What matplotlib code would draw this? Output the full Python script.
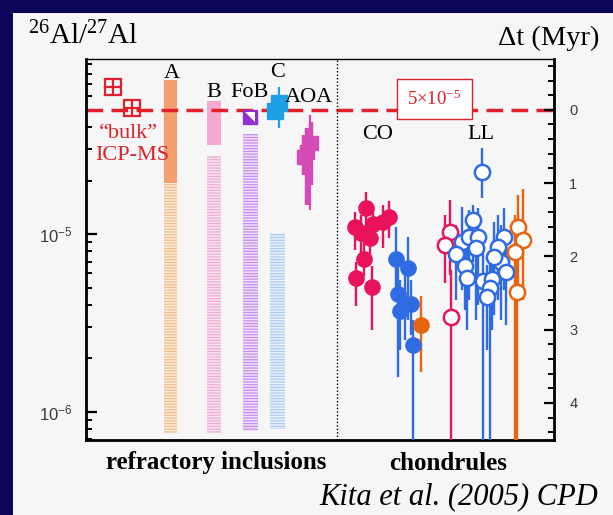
import matplotlib

matplotlib.use("Agg")

import matplotlib.pyplot as plt
import numpy as np
from matplotlib.patches import Rectangle
from matplotlib.ticker import LogLocator, MultipleLocator, NullFormatter

plt.rcParams["font.family"] = ["Liberation Serif", "DejaVu Serif"]
plt.rcParams["mathtext.fontset"] = "custom"
plt.rcParams["mathtext.default"] = "regular"
plt.rcParams["hatch.linewidth"] = 0.9

HALF_LIFE = 0.73  # Myr
TAU = HALF_LIFE / np.log(2)
R0 = 5e-5
YLIM = (6.93e-7, 9.66e-5)

# --- refractory inclusions (26Al/27Al in units of 1e-5) ---
bulk_x = [5.8, 9.9]
bulk_ratio = [6.7, 5.1]

solid_x = [18.1, 27.3]
solid_width = [2.8, 3.0]
solid_lo = [1.94, 3.17]
solid_hi = [7.36, 5.6]
solid_colors = ["#f5a06c", "#f7a8d0"]

hatch_x = [18.1, 27.3, 35.1, 41.0]
hatch_width = [2.8, 3.0, 3.2, 3.2]
hatch_lo = [0.076, 0.076, 0.078, 0.080]
hatch_hi = [1.94, 2.75, 3.65, 1.01]
hatch_fill = ["#fdebdb", "#fbe4f1", "#f0defb", "#e8f1fb"]
hatch_line = ["#f3bd88", "#f2a9d5", "#c58ff0", "#a9cbf2"]

fob_x = 35.1
fob_ratio = 4.58

c_x = [41.2, 40.3]
c_ratio = [5.46, 4.92]
c_range = (3.95, 6.71)

aoa_x = [48.0, 46.5, 47.3]
aoa_ratio = [3.25, 2.71, 2.89]
aoa_lo = [1.89, 2.15, 1.46]
aoa_hi = [4.27, 3.61, 3.95]
aoa_range = (1.36, 4.68)

# --- chondrules, ages relative to 5e-5 (Myr); 6.0 = no lower bound ---
co_red_x = [59.9, 57.4, 58.8, 61.4, 63.5, 64.8, 60.6, 59.3, 57.6, 61.2]
co_red_dt = [1.34, 1.60, 1.68, 1.56, 1.53, 1.46, 1.75, 2.03, 2.29, 2.42]
co_red_young = [1.12, 1.39, 1.43, 1.34, 1.30, 1.24, 1.53, 1.77, 2.08, 2.13]
co_red_old = [1.67, 1.91, 1.98, 1.84, 1.88, 1.75, 2.08, 2.27, 2.68, 3.00]

co_blue_x = [66.3, 68.9, 66.7, 68.2, 67.0, 69.5, 69.9]
co_blue_dt = [2.03, 2.16, 2.51, 2.65, 2.74, 2.65, 3.21]
co_blue_young = [1.60, 1.73, 2.12, 2.25, 2.32, 2.32, 2.87]
co_blue_old = [2.59, 2.87, 3.65, 3.14, 3.28, 3.07, 6.0]

co_orange_x = [71.6]
co_orange_dt = [2.94]
co_orange_young = [2.54]
co_orange_old = [3.58]

ll_red_x = [77.8, 76.8, 78.0]
ll_red_dt = [1.67, 1.84, 2.83]
ll_red_young = [1.23, 1.43, 2.18]
ll_red_old = [2.25, 2.36, 6.0]

ll_blue_x = [84.6, 82.7, 80.4, 81.9, 83.8, 79.1, 83.4, 81.0, 81.4,
             84.9, 86.8, 86.4, 85.7, 88.7, 89.8, 89.3, 88.1, 87.2]
ll_blue_dt = [0.85, 1.50, 1.80, 1.73, 1.73, 1.97, 1.88, 2.13, 2.29,
              2.33, 2.31, 2.43, 2.55, 2.08, 2.21, 1.73, 1.87, 2.01]
ll_blue_young = [0.52, 1.30, 1.32, 1.37, 1.34, 1.57, 1.50, 1.71, 1.84,
                 1.91, 1.91, 2.02, 2.12, 1.57, 1.77, 1.34, 1.43, 1.53]
ll_blue_old = [1.20, 2.08, 2.46, 2.59, 2.66, 2.59, 2.87, 2.73, 3.00,
               6.0, 3.00, 6.0, 3.28, 2.87, 2.94, 2.46, 2.59, 2.80]

ll_orange_x = [92.3, 93.4, 91.7, 92.1]
ll_orange_dt = [1.60, 1.77, 1.94, 2.48]
ll_orange_young = [1.16, 1.08, 1.43, 1.98]
ll_orange_old = [2.46, 2.59, 6.0, 6.0]

RED = "#e8135c"
BLUE = "#2f6be2"
ORANGE = "#e8650f"
LINE_RED = "#e0202a"


def e5(values):
    return np.asarray(values, dtype=float) * 1e-5


def dt_of(ratio):
    return TAU * np.log(R0 / ratio)


def chondrule_group(ax, x, dt, young, old, color, filled):
    dt = np.asarray(dt)
    yerr = [dt - np.asarray(young), np.asarray(old) - dt]
    ax.errorbar(
        x, dt, yerr=yerr, fmt="o", color=color, ecolor=color, elinewidth=1.7,
        capsize=0, ms=12 if filled else 11,
        mfc=color if filled else "white", mec=color, mew=0 if filled else 1.8,
        zorder=3,
    )


fig = plt.figure(figsize=(6.13, 5.15), dpi=100, facecolor="#0b0657")
fig.patches.append(Rectangle((13 / 613, 0), 1, 1 - 13 / 515, transform=fig.transFigure,
                             facecolor="#f6f6f6", edgecolor="none", zorder=-5))
ax = fig.add_axes([86 / 613, 1 - 440 / 515, (554 - 86) / 613, (440 - 59) / 515])
ax.set_facecolor("#f6f6f6")
ax.set_yscale("log")
ax.set_xlim(0, 100)
ax.set_ylim(*YLIM)

# hatched and solid ranges for inclusion types
for x, w, lo, hi, fc, hc in zip(hatch_x, hatch_width, hatch_lo, hatch_hi, hatch_fill, hatch_line):
    ax.bar(x, (hi - lo) * 1e-5, bottom=lo * 1e-5, width=w, facecolor=fc,
           edgecolor=hc, hatch="------", linewidth=0, zorder=1)
for x, w, lo, hi, c in zip(solid_x, solid_width, solid_lo, solid_hi, solid_colors):
    ax.bar(x, (hi - lo) * 1e-5, bottom=lo * 1e-5, width=w, color=c, linewidth=0, zorder=1)

ax.axhline(R0, color=LINE_RED, lw=2.5, dashes=(4.8, 2.4), zorder=2)
ax.axvline(53.7, color="black", lw=1, ls=(0, (1, 1.5)), zorder=2)

ax.plot(bulk_x, e5(bulk_ratio), ls="none", marker="s", ms=12, mfc="none", mec=LINE_RED, mew=1.6, zorder=3)
ax.plot(bulk_x, e5(bulk_ratio), ls="none", marker="+", ms=12, mec=LINE_RED, mew=1.6, zorder=3)

ax.plot(fob_x, fob_ratio * 1e-5, marker="s", ms=10.5, color="#9030d0", zorder=3)
ax.plot(fob_x, fob_ratio * 1e-5, marker=[(-1, 1), (1, 1), (1, -1)], ms=7.5, color="white", mew=0, zorder=4)

ax.vlines(c_x[0], *e5(c_range), color="#1ea0e6", lw=1.6, zorder=3)
ax.plot(c_x, e5(c_ratio), ls="none", marker="s", ms=11.5, color="#1ea0e6", zorder=3)

aoa_r = e5(aoa_ratio)
ax.vlines(47.8, *e5(aoa_range), color="#d44bb5", lw=1.6, zorder=3)
ax.errorbar(aoa_x, aoa_r, yerr=[aoa_r - e5(aoa_lo), e5(aoa_hi) - aoa_r], fmt="s", ms=10.5,
            color="#d44bb5", elinewidth=3.2, capsize=0, zorder=3)

label_kw = dict(fontsize=16, ha="center", va="center", zorder=5)
ax.text(18.3, 8.05e-5, "A", **label_kw)
ax.text(27.3, 6.22e-5, "B", **label_kw)
ax.text(35.0, 6.22e-5, "FoB", **label_kw)
ax.text(41.0, 8.16e-5, "C", **label_kw)
ax.text(47.6, 5.83e-5, "AOA", **label_kw)
ax.text(62.3, 3.61e-5, "CO", **label_kw)
ax.text(84.4, 3.61e-5, "LL", **label_kw)
ax.text(9.0, 3.70e-5, "\u201cbulk\u201d", color=LINE_RED, **label_kw)
ax.text(9.8, 2.75e-5, "ICP-MS", color=LINE_RED, **label_kw)
ax.text(74.4, 5.75e-5, "5\u00d710$^{-5}$", fontsize=13.5, color=LINE_RED, ha="center", va="center",
        zorder=5, bbox=dict(boxstyle="square,pad=0.55", fc="white", ec=LINE_RED, lw=1))

ax.set_yticks([1e-6, 1e-5], labels=["$10^{-6}$", "$10^{-5}$"])
ax.yaxis.set_minor_locator(LogLocator(base=10, subs=np.arange(2, 10)))
ax.yaxis.set_minor_formatter(NullFormatter())
ax.tick_params(axis="y", which="major", direction="in", length=8, width=1.6, pad=10,
               labelsize=12, labelcolor="#3a3a3a")
ax.tick_params(axis="y", which="minor", direction="in", length=4.5, width=1.4)
ax.tick_params(axis="x", bottom=False, labelbottom=False)
for lbl in ax.get_yticklabels():
    lbl.set_fontfamily("Liberation Sans")
for side in ("left", "bottom", "right"):
    ax.spines[side].set_linewidth(2)
ax.spines["top"].set_linewidth(1)

# chondrule ages on the right-hand Δt scale
ax2 = ax.twinx()
ax2.set_ylim(dt_of(YLIM[0]), dt_of(YLIM[1]))
for sp in ax2.spines.values():
    sp.set_visible(False)
ax2.yaxis.set_major_locator(MultipleLocator(1))
ax2.yaxis.set_minor_locator(MultipleLocator(0.2))
ax2.tick_params(axis="y", which="major", direction="in", length=7, width=1.6, pad=11,
                labelsize=10.5, labelcolor="#3a3a3a")
ax2.tick_params(axis="y", which="minor", direction="in", length=4, width=1.4)
for lbl in ax2.get_yticklabels():
    lbl.set_fontfamily("Liberation Sans")

chondrule_group(ax2, co_red_x, co_red_dt, co_red_young, co_red_old, RED, True)
chondrule_group(ax2, co_blue_x, co_blue_dt, co_blue_young, co_blue_old, BLUE, True)
chondrule_group(ax2, co_orange_x, co_orange_dt, co_orange_young, co_orange_old, ORANGE, True)
chondrule_group(ax2, ll_red_x, ll_red_dt, ll_red_young, ll_red_old, RED, False)
chondrule_group(ax2, ll_blue_x, ll_blue_dt, ll_blue_young, ll_blue_old, BLUE, False)
chondrule_group(ax2, ll_orange_x, ll_orange_dt, ll_orange_young, ll_orange_old, ORANGE, False)

fig.text(28 / 613, 1 - 36 / 515, "$^{26}$Al/$^{27}$Al", fontsize=21, ha="left", va="center")
fig.text(599 / 613, 1 - 38 / 515, "\u0394t (Myr)", fontsize=20.5, ha="right", va="center")
fig.text(216 / 613, 1 - 463 / 515, "refractory inclusions", fontsize=18, fontweight="bold",
         ha="center", va="center")
fig.text(448 / 613, 1 - 463 / 515, "chondrules", fontsize=18, fontweight="bold",
         ha="center", va="center")
fig.text(598 / 613, 1 - 497 / 515, "Kita et al. (2005) CPD", fontsize=22, fontstyle="italic",
         ha="right", va="center")

fig.savefig("out.png", dpi=100, facecolor=fig.get_facecolor())
